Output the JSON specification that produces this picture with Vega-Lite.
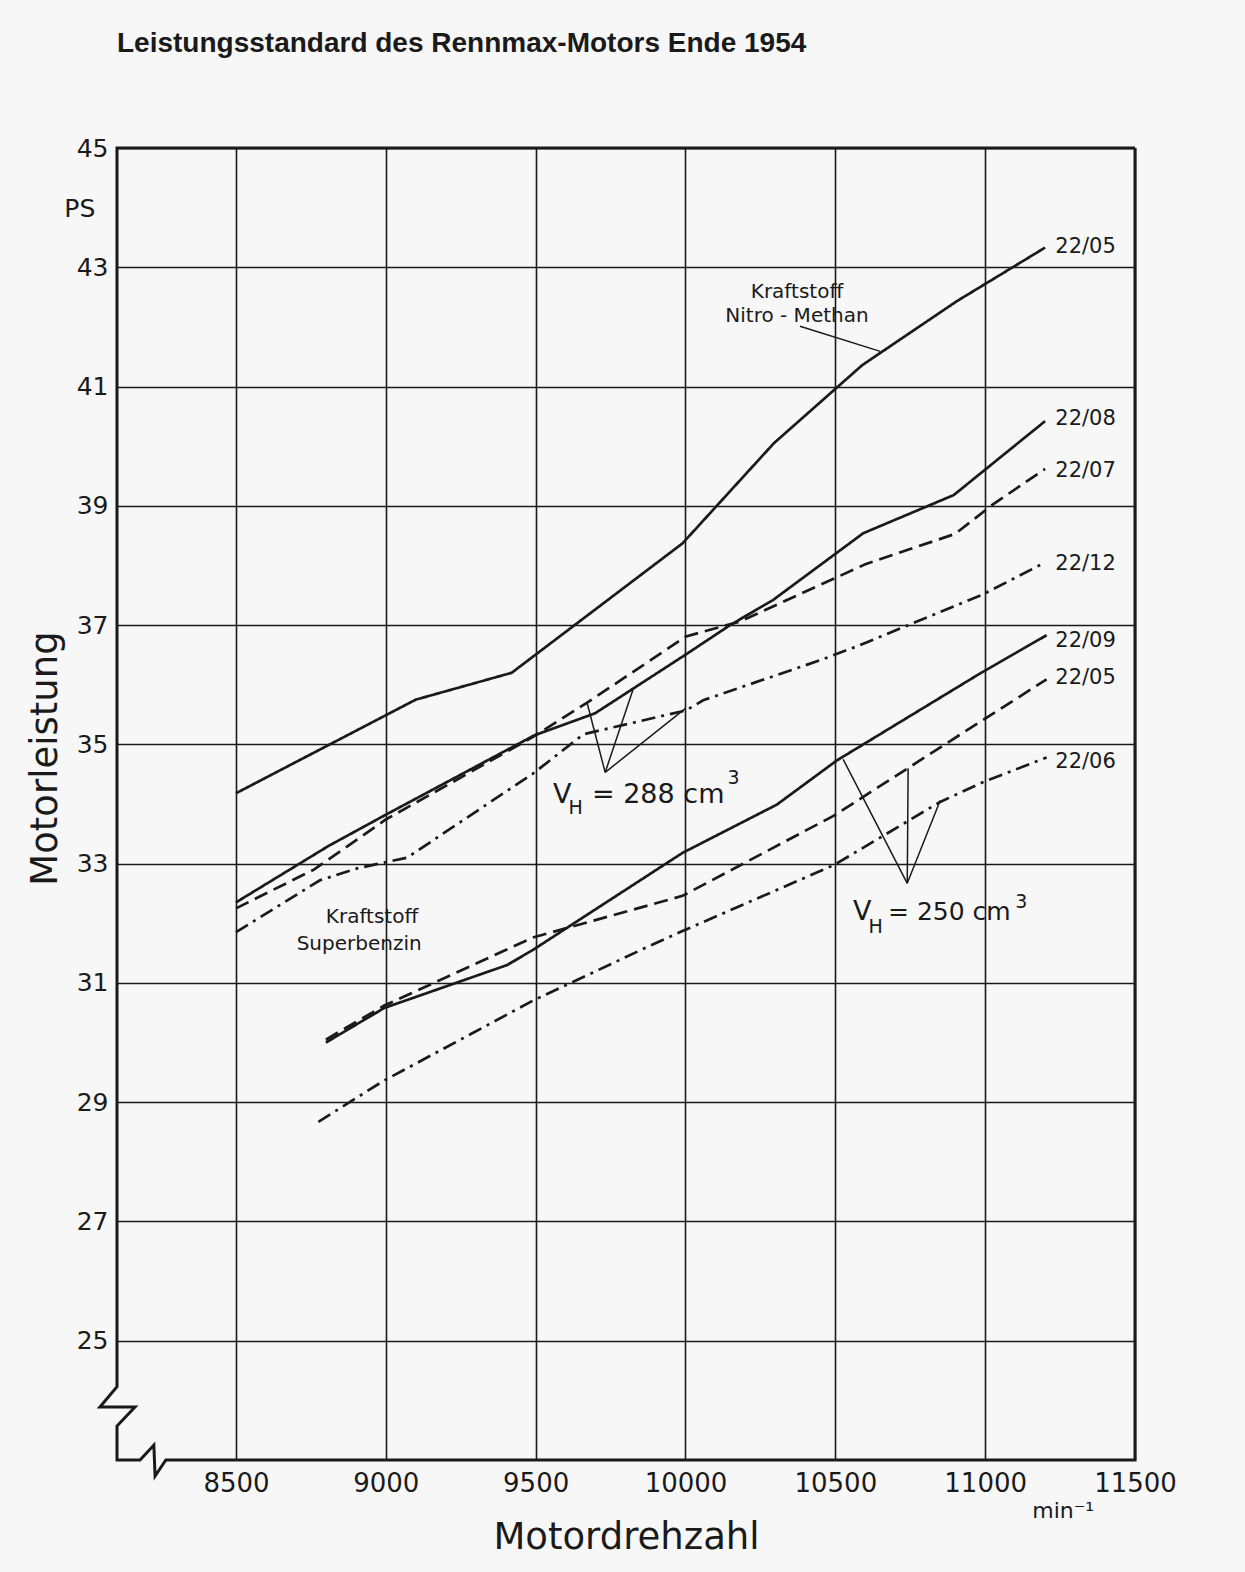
{
  "$schema": "https://vega.github.io/schema/vega-lite/v6.json",
  "width": 1018,
  "height": 1312,
  "autosize": {"type": "none"},
  "padding": {"left": 117, "top": 148, "right": 110, "bottom": 112},
  "background": "#f7f7f7",
  "title": {
    "text": "Leistungsstandard des Rennmax-Motors Ende 1954",
    "anchor": "start",
    "frame": "group",
    "font": "Liberation Sans",
    "fontSize": 28,
    "fontWeight": "bold",
    "color": "#1a1a1a",
    "baseline": "alphabetic",
    "offset": 56
  },
  "datasets": {
    "curves": [
      {"c": "N 22/05", "s": "solid", "rpm": 8500, "ps": 34.18},
      {"c": "N 22/05", "s": "solid", "rpm": 9100, "ps": 35.75},
      {"c": "N 22/05", "s": "solid", "rpm": 9420, "ps": 36.2},
      {"c": "N 22/05", "s": "solid", "rpm": 9990, "ps": 38.37},
      {"c": "N 22/05", "s": "solid", "rpm": 10295, "ps": 40.05},
      {"c": "N 22/05", "s": "solid", "rpm": 10590, "ps": 41.36},
      {"c": "N 22/05", "s": "solid", "rpm": 10905, "ps": 42.43},
      {"c": "N 22/05", "s": "solid", "rpm": 11200, "ps": 43.33},

      {"c": "22/08", "s": "solid", "rpm": 8500, "ps": 32.35},
      {"c": "22/08", "s": "solid", "rpm": 8810, "ps": 33.3},
      {"c": "22/08", "s": "solid", "rpm": 9000, "ps": 33.82},
      {"c": "22/08", "s": "solid", "rpm": 9495, "ps": 35.15},
      {"c": "22/08", "s": "solid", "rpm": 9698, "ps": 35.52},
      {"c": "22/08", "s": "solid", "rpm": 10002, "ps": 36.51},
      {"c": "22/08", "s": "solid", "rpm": 10149, "ps": 37.0},
      {"c": "22/08", "s": "solid", "rpm": 10292, "ps": 37.42},
      {"c": "22/08", "s": "solid", "rpm": 10593, "ps": 38.54},
      {"c": "22/08", "s": "solid", "rpm": 10895, "ps": 39.18},
      {"c": "22/08", "s": "solid", "rpm": 11200, "ps": 40.42},

      {"c": "22/07", "s": "dashed", "rpm": 8500, "ps": 32.25},
      {"c": "22/07", "s": "dashed", "rpm": 8760, "ps": 32.9},
      {"c": "22/07", "s": "dashed", "rpm": 9000, "ps": 33.74},
      {"c": "22/07", "s": "dashed", "rpm": 9490, "ps": 35.12},
      {"c": "22/07", "s": "dashed", "rpm": 9672, "ps": 35.7},
      {"c": "22/07", "s": "dashed", "rpm": 10002, "ps": 36.81},
      {"c": "22/07", "s": "dashed", "rpm": 10182, "ps": 37.06},
      {"c": "22/07", "s": "dashed", "rpm": 10600, "ps": 38.02},
      {"c": "22/07", "s": "dashed", "rpm": 10900, "ps": 38.53},
      {"c": "22/07", "s": "dashed", "rpm": 11025, "ps": 39.02},
      {"c": "22/07", "s": "dashed", "rpm": 11200, "ps": 39.62},

      {"c": "22/12", "s": "dashdot", "rpm": 8500, "ps": 31.85},
      {"c": "22/12", "s": "dashdot", "rpm": 8780, "ps": 32.72},
      {"c": "22/12", "s": "dashdot", "rpm": 8904, "ps": 32.92},
      {"c": "22/12", "s": "dashdot", "rpm": 9071, "ps": 33.1},
      {"c": "22/12", "s": "dashdot", "rpm": 9491, "ps": 34.51},
      {"c": "22/12", "s": "dashdot", "rpm": 9660, "ps": 35.17},
      {"c": "22/12", "s": "dashdot", "rpm": 10002, "ps": 35.57},
      {"c": "22/12", "s": "dashdot", "rpm": 10059, "ps": 35.74},
      {"c": "22/12", "s": "dashdot", "rpm": 10449, "ps": 36.41},
      {"c": "22/12", "s": "dashdot", "rpm": 10580, "ps": 36.66},
      {"c": "22/12", "s": "dashdot", "rpm": 10995, "ps": 37.52},
      {"c": "22/12", "s": "dashdot", "rpm": 11200, "ps": 38.05},

      {"c": "22/09", "s": "solid", "rpm": 8800, "ps": 30.0},
      {"c": "22/09", "s": "solid", "rpm": 8995, "ps": 30.58},
      {"c": "22/09", "s": "solid", "rpm": 9405, "ps": 31.3},
      {"c": "22/09", "s": "solid", "rpm": 9490, "ps": 31.55},
      {"c": "22/09", "s": "solid", "rpm": 9990, "ps": 33.18},
      {"c": "22/09", "s": "solid", "rpm": 10305, "ps": 33.99},
      {"c": "22/09", "s": "solid", "rpm": 10505, "ps": 34.73},
      {"c": "22/09", "s": "solid", "rpm": 10990, "ps": 36.21},
      {"c": "22/09", "s": "solid", "rpm": 11205, "ps": 36.83},

      {"c": "S 22/05", "s": "dashed", "rpm": 8800, "ps": 30.05},
      {"c": "S 22/05", "s": "dashed", "rpm": 8995, "ps": 30.62},
      {"c": "S 22/05", "s": "dashed", "rpm": 9490, "ps": 31.76},
      {"c": "S 22/05", "s": "dashed", "rpm": 9990, "ps": 32.46},
      {"c": "S 22/05", "s": "dashed", "rpm": 10497, "ps": 33.81},
      {"c": "S 22/05", "s": "dashed", "rpm": 10990, "ps": 35.4},
      {"c": "S 22/05", "s": "dashed", "rpm": 11205, "ps": 36.09},

      {"c": "22/06", "s": "dashdot", "rpm": 8775, "ps": 28.67},
      {"c": "22/06", "s": "dashdot", "rpm": 8990, "ps": 29.35},
      {"c": "22/06", "s": "dashdot", "rpm": 9490, "ps": 30.7},
      {"c": "22/06", "s": "dashdot", "rpm": 9880, "ps": 31.62},
      {"c": "22/06", "s": "dashdot", "rpm": 9990, "ps": 31.87},
      {"c": "22/06", "s": "dashdot", "rpm": 10497, "ps": 32.98},
      {"c": "22/06", "s": "dashdot", "rpm": 10848, "ps": 34.03},
      {"c": "22/06", "s": "dashdot", "rpm": 10990, "ps": 34.36},
      {"c": "22/06", "s": "dashdot", "rpm": 11205, "ps": 34.78}
    ],
    "frame": [
      {"i": 0, "rpm": 11500, "ps": 45},
      {"i": 1, "rpm": 8103, "ps": 45},
      {"i": 2, "rpm": 8103, "ps": 24.23},
      {"i": 3, "rpm": 8046, "ps": 23.89},
      {"i": 4, "rpm": 8163, "ps": 23.89},
      {"i": 5, "rpm": 8103, "ps": 23.57},
      {"i": 6, "rpm": 8103, "ps": 23.0},
      {"i": 7, "rpm": 8180, "ps": 23.0},
      {"i": 8, "rpm": 8226, "ps": 23.25},
      {"i": 9, "rpm": 8230, "ps": 22.73},
      {"i": 10, "rpm": 8266, "ps": 23.0},
      {"i": 11, "rpm": 11500, "ps": 23.0},
      {"i": 12, "rpm": 11500, "ps": 45}
    ],
    "pointers": [
      {"g": "a", "rpm": 9732, "ps": 34.53}, {"g": "a", "rpm": 9672, "ps": 35.69},
      {"g": "b", "rpm": 9732, "ps": 34.53}, {"g": "b", "rpm": 9825, "ps": 35.92},
      {"g": "c", "rpm": 9732, "ps": 34.53}, {"g": "c", "rpm": 9999, "ps": 35.6},
      {"g": "d", "rpm": 10740, "ps": 32.67}, {"g": "d", "rpm": 10526, "ps": 34.75},
      {"g": "e", "rpm": 10740, "ps": 32.67}, {"g": "e", "rpm": 10743, "ps": 34.6},
      {"g": "f", "rpm": 10740, "ps": 32.67}, {"g": "f", "rpm": 10850, "ps": 34.06},
      {"g": "n", "rpm": 10382, "ps": 42.01}, {"g": "n", "rpm": 10650, "ps": 41.59}
    ],
    "texts": [
      {"k": "curve", "t": "22/05", "rpm": 11234, "ps": 43.34},
      {"k": "curve", "t": "22/08", "rpm": 11234, "ps": 40.45},
      {"k": "curve", "t": "22/07", "rpm": 11234, "ps": 39.59},
      {"k": "curve", "t": "22/12", "rpm": 11234, "ps": 38.03},
      {"k": "curve", "t": "22/09", "rpm": 11234, "ps": 36.74},
      {"k": "curve", "t": "22/05", "rpm": 11234, "ps": 36.12},
      {"k": "curve", "t": "22/06", "rpm": 11234, "ps": 34.71},
      {"k": "fuel", "t": "Kraftstoff", "rpm": 10372, "ps": 42.58},
      {"k": "fuel", "t": "Nitro - Methan", "rpm": 10372, "ps": 42.18},
      {"k": "fuel", "t": "Kraftstoff", "rpm": 8954, "ps": 32.1},
      {"k": "fuel", "t": "Superbenzin", "rpm": 8911, "ps": 31.66},
      {"k": "big", "t": "V", "rpm": 9558, "ps": 34.01},
      {"k": "big", "t": "= 288 cm", "rpm": 9688, "ps": 34.01},
      {"k": "big", "t": "V", "rpm": 10559, "ps": 32.05},
      {"k": "big25", "t": "= 250 cm", "rpm": 10676, "ps": 32.05},
      {"k": "small", "t": "H", "rpm": 9610, "ps": 33.84},
      {"k": "small", "t": "3", "rpm": 10140, "ps": 34.33},
      {"k": "small", "t": "H", "rpm": 10611, "ps": 31.83},
      {"k": "small", "t": "3", "rpm": 11100, "ps": 32.25},
      {"k": "unit", "t": "min⁻¹", "rpm": 11157, "ps": 22.15},
      {"k": "ps", "t": "PS", "rpm": 7979, "ps": 43.98}
    ]
  },
  "encoding": {
    "x": {
      "field": "rpm",
      "type": "quantitative",
      "scale": {"domain": [8103, 11500], "nice": false, "zero": false},
      "axis": {
        "values": [8500, 9000, 9500, 10000, 10500, 11000, 11500],
        "format": "d",
        "labelFontSize": 26,
        "labelPadding": 10,
        "labelFlush": false,
        "title": "Motordrehzahl",
        "titleFontSize": 37,
        "titleBaseline": "alphabetic",
        "titleY": 88
      }
    },
    "y": {
      "field": "ps",
      "type": "quantitative",
      "scale": {"domain": [23, 45], "nice": false, "zero": false},
      "axis": {
        "values": [25, 27, 29, 31, 33, 35, 37, 39, 41, 43, 45],
        "labelFontSize": 25,
        "labelPadding": 9,
        "title": "Motorleistung",
        "titleFontSize": 37,
        "titleAngle": 270,
        "titleBaseline": "middle",
        "titleAlign": "center",
        "titleX": -72,
        "titleY": 610
      }
    }
  },
  "layer": [
    {
      "data": {"name": "frame"},
      "mark": {"type": "line", "color": "#1a1a1a", "strokeWidth": 3, "strokeJoin": "miter"},
      "encoding": {"order": {"field": "i", "type": "quantitative"}}
    },
    {
      "data": {"name": "curves"},
      "mark": {"type": "line", "color": "#1a1a1a", "strokeWidth": 2.7},
      "encoding": {
        "detail": {"field": "c"},
        "strokeDash": {
          "field": "s",
          "type": "nominal",
          "scale": {"domain": ["solid", "dashed", "dashdot"], "range": [[1, 0], [14, 7], [14, 6, 3, 6]]},
          "legend": null
        }
      }
    },
    {
      "data": {"name": "pointers"},
      "mark": {"type": "line", "color": "#1a1a1a", "strokeWidth": 1.5},
      "encoding": {"detail": {"field": "g"}}
    },
    {
      "data": {"name": "texts"},
      "transform": [{"filter": "datum.k === 'curve'"}],
      "mark": {"type": "text", "fontSize": 21, "align": "left", "baseline": "middle"},
      "encoding": {"text": {"field": "t"}}
    },
    {
      "data": {"name": "texts"},
      "transform": [{"filter": "datum.k === 'fuel'"}],
      "mark": {"type": "text", "fontSize": 20, "align": "center", "baseline": "middle"},
      "encoding": {"text": {"field": "t"}}
    },
    {
      "data": {"name": "texts"},
      "transform": [{"filter": "datum.k === 'big'"}],
      "mark": {"type": "text", "fontSize": 27, "align": "left", "baseline": "alphabetic"},
      "encoding": {"text": {"field": "t"}}
    },
    {
      "data": {"name": "texts"},
      "transform": [{"filter": "datum.k === 'big25'"}],
      "mark": {"type": "text", "fontSize": 25, "align": "left", "baseline": "alphabetic"},
      "encoding": {"text": {"field": "t"}}
    },
    {
      "data": {"name": "texts"},
      "transform": [{"filter": "datum.k === 'small'"}],
      "mark": {"type": "text", "fontSize": 19, "align": "left", "baseline": "alphabetic"},
      "encoding": {"text": {"field": "t"}}
    },
    {
      "data": {"name": "texts"},
      "transform": [{"filter": "datum.k === 'unit'"}],
      "mark": {"type": "text", "fontSize": 22, "align": "left", "baseline": "middle"},
      "encoding": {"text": {"field": "t"}}
    },
    {
      "data": {"name": "texts"},
      "transform": [{"filter": "datum.k === 'ps'"}],
      "mark": {"type": "text", "fontSize": 25, "align": "center", "baseline": "middle"},
      "encoding": {"text": {"field": "t"}}
    }
  ],
  "config": {
    "view": {"stroke": null},
    "font": "DejaVu Sans",
    "text": {"color": "#1a1a1a", "font": "DejaVu Sans"},
    "axis": {
      "domain": false,
      "ticks": false,
      "grid": true,
      "gridColor": "#1a1a1a",
      "gridWidth": 1.6,
      "gridOpacity": 1,
      "labelFont": "DejaVu Sans",
      "labelColor": "#1a1a1a",
      "titleFont": "DejaVu Sans",
      "titleFontWeight": "normal",
      "titleColor": "#1a1a1a"
    }
  }
}
